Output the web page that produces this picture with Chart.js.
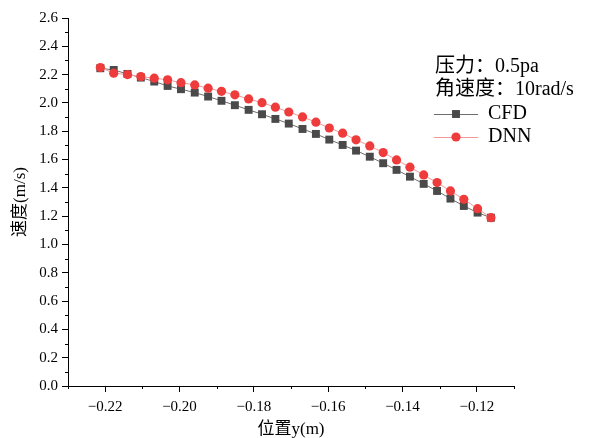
<!DOCTYPE html>
<html>
<head>
<meta charset="utf-8">
<script src="https://cdn.jsdelivr.net/npm/chart.js@4"></script>
<style>
body{margin:0;background:#fff;}
</style>
</head>
<body>
<canvas id="chart" width="596" height="438"></canvas>
<script>
// position y (m)
const positions = [-0.2213,-0.2177,-0.2140,-0.2104,-0.2068,-0.2032,-0.1996,-0.1959,-0.1923,-0.1887,
    -0.1851,-0.1814,-0.1778,-0.1742,-0.1706,-0.1669,-0.1633,-0.1597,-0.1561,-0.1525,
    -0.1488,-0.1452,-0.1416,-0.1380,-0.1343,-0.1307,-0.1271,-0.1235,-0.1198,-0.1162];

const cfdSpeed = [2.245,2.233,2.205,2.179,2.151,2.120,2.097,2.073,2.045,2.015,
    1.984,1.951,1.920,1.887,1.854,1.816,1.781,1.741,1.703,1.663,
    1.620,1.574,1.527,1.479,1.428,1.378,1.324,1.272,1.225,1.189];

const dnnSpeed = [2.250,2.210,2.200,2.186,2.175,2.163,2.143,2.127,2.104,2.082,
    2.057,2.028,2.002,1.970,1.936,1.901,1.864,1.823,1.786,1.739,
    1.696,1.649,1.597,1.546,1.491,1.437,1.378,1.319,1.253,1.189];

const xTicks = [-0.22,-0.20,-0.18,-0.16,-0.14,-0.12];
const xMinor = [-0.23,-0.21,-0.19,-0.17,-0.15,-0.13,-0.11];
const yMinor = [0.1,0.3,0.5,0.7,0.9,1.1,1.3,1.5,1.7,1.9,2.1,2.3,2.5];

const noteLines = ["压力：0.5pa","角速度：10rad/s"];

const FONT = '"Liberation Serif", "Noto Sans CJK SC", serif';

// minor ticks + legend block
const extras = {
    id:"extras",
    afterDraw(chart){
        const c = chart.ctx;
        const xs = chart.scales.x, ys = chart.scales.y;
        c.save();
        c.strokeStyle = "#000";
        c.lineWidth = 1;
        c.beginPath();
        xMinor.forEach(v=>{
            const px = Math.round(xs.getPixelForValue(v)) + 0.5;
            c.moveTo(px, ys.bottom);
            c.lineTo(px, ys.bottom + 3);
        });
        yMinor.forEach(v=>{
            const py = Math.round(ys.getPixelForValue(v)) + 0.5;
            c.moveTo(xs.left, py);
            c.lineTo(xs.left - 3, py);
        });
        c.stroke();

        c.font = "20px " + FONT;
        c.fillStyle = "#000";
        c.textBaseline = "middle";
        noteLines.forEach((t,i)=> c.fillText(t, 435, 67 + i*23));

        chart.data.datasets.forEach((ds,i)=>{
            const y = 114 + i*23;
            c.strokeStyle = ds.borderColor;
            c.beginPath();
            c.moveTo(434, y + 0.5);
            c.lineTo(478, y + 0.5);
            c.stroke();
            c.fillStyle = ds.pointBackgroundColor;
            c.beginPath();
            if(ds.pointStyle === "rect"){
                const h = ds.pointRadius * Math.SQRT1_2;
                c.rect(456 - h, y - h, 2*h, 2*h);
            } else {
                c.arc(456, y, ds.pointRadius, 0, Math.PI*2);
            }
            c.fill();
            c.fillStyle = "#000";
            c.fillText(ds.label, 488, y);
        });
        c.restore();
    }
};

const ctx = document.getElementById("chart");

new Chart(ctx,{
    type:"line",
    data:{
        datasets:[{
            label:"CFD",
            data:positions.map((x,i)=>({x:x, y:cfdSpeed[i]})),
            borderColor:"#6e6e6e",
            borderWidth:1,
            pointStyle:"rect",
            pointRadius:5.6,
            pointBackgroundColor:"#4a4a4a",
            pointBorderColor:"#4a4a4a",
            pointBorderWidth:0,
            order:1
        },{
            label:"DNN",
            data:positions.map((x,i)=>({x:x, y:dnnSpeed[i]})),
            borderColor:"#f29a9a",
            borderWidth:1,
            pointStyle:"circle",
            pointRadius:4.6,
            pointBackgroundColor:"#ee3b3b",
            pointBorderColor:"#ee3b3b",
            pointBorderWidth:0,
            order:0
        }]
    },
    options:{
        responsive:false,
        animation:false,
        layout:{padding:{left:0, top:18, right:82, bottom:0}},
        plugins:{legend:{display:false}, tooltip:{enabled:false}},
        scales:{
            x:{
                type:"linear",
                min:-0.23,
                max:-0.11,
                afterBuildTicks(scale){
                    scale.ticks = xTicks.map(v=>({value:v}));
                },
                afterFit(scale){ scale.height = 52; },
                grid:{drawOnChartArea:false, color:"#000", tickLength:6},
                border:{color:"#000", width:1},
                ticks:{
                    color:"#000",
                    padding:6,
                    font:{family:FONT, size:15},
                    callback:v=> v.toFixed(2).replace("-","\u2212")
                },
                title:{
                    display:true,
                    text:"位置y(m)",
                    color:"#000",
                    font:{family:FONT, size:17, lineHeight:1},
                    padding:{top:0,bottom:0}
                }
            },
            y:{
                min:0,
                max:2.6,
                afterFit(scale){ scale.width = 68; },
                grid:{drawOnChartArea:false, color:"#000", tickLength:6},
                border:{color:"#000", width:1},
                ticks:{
                    stepSize:0.2,
                    color:"#000",
                    padding:4,
                    font:{family:FONT, size:15},
                    callback:v=> v.toFixed(1)
                },
                title:{
                    display:true,
                    text:"速度(m/s)",
                    color:"#000",
                    font:{family:FONT, size:17, lineHeight:1.2},
                    padding:{top:10,bottom:0}
                }
            }
        }
    },
    plugins:[extras]
});
</script>
</body>
</html>
